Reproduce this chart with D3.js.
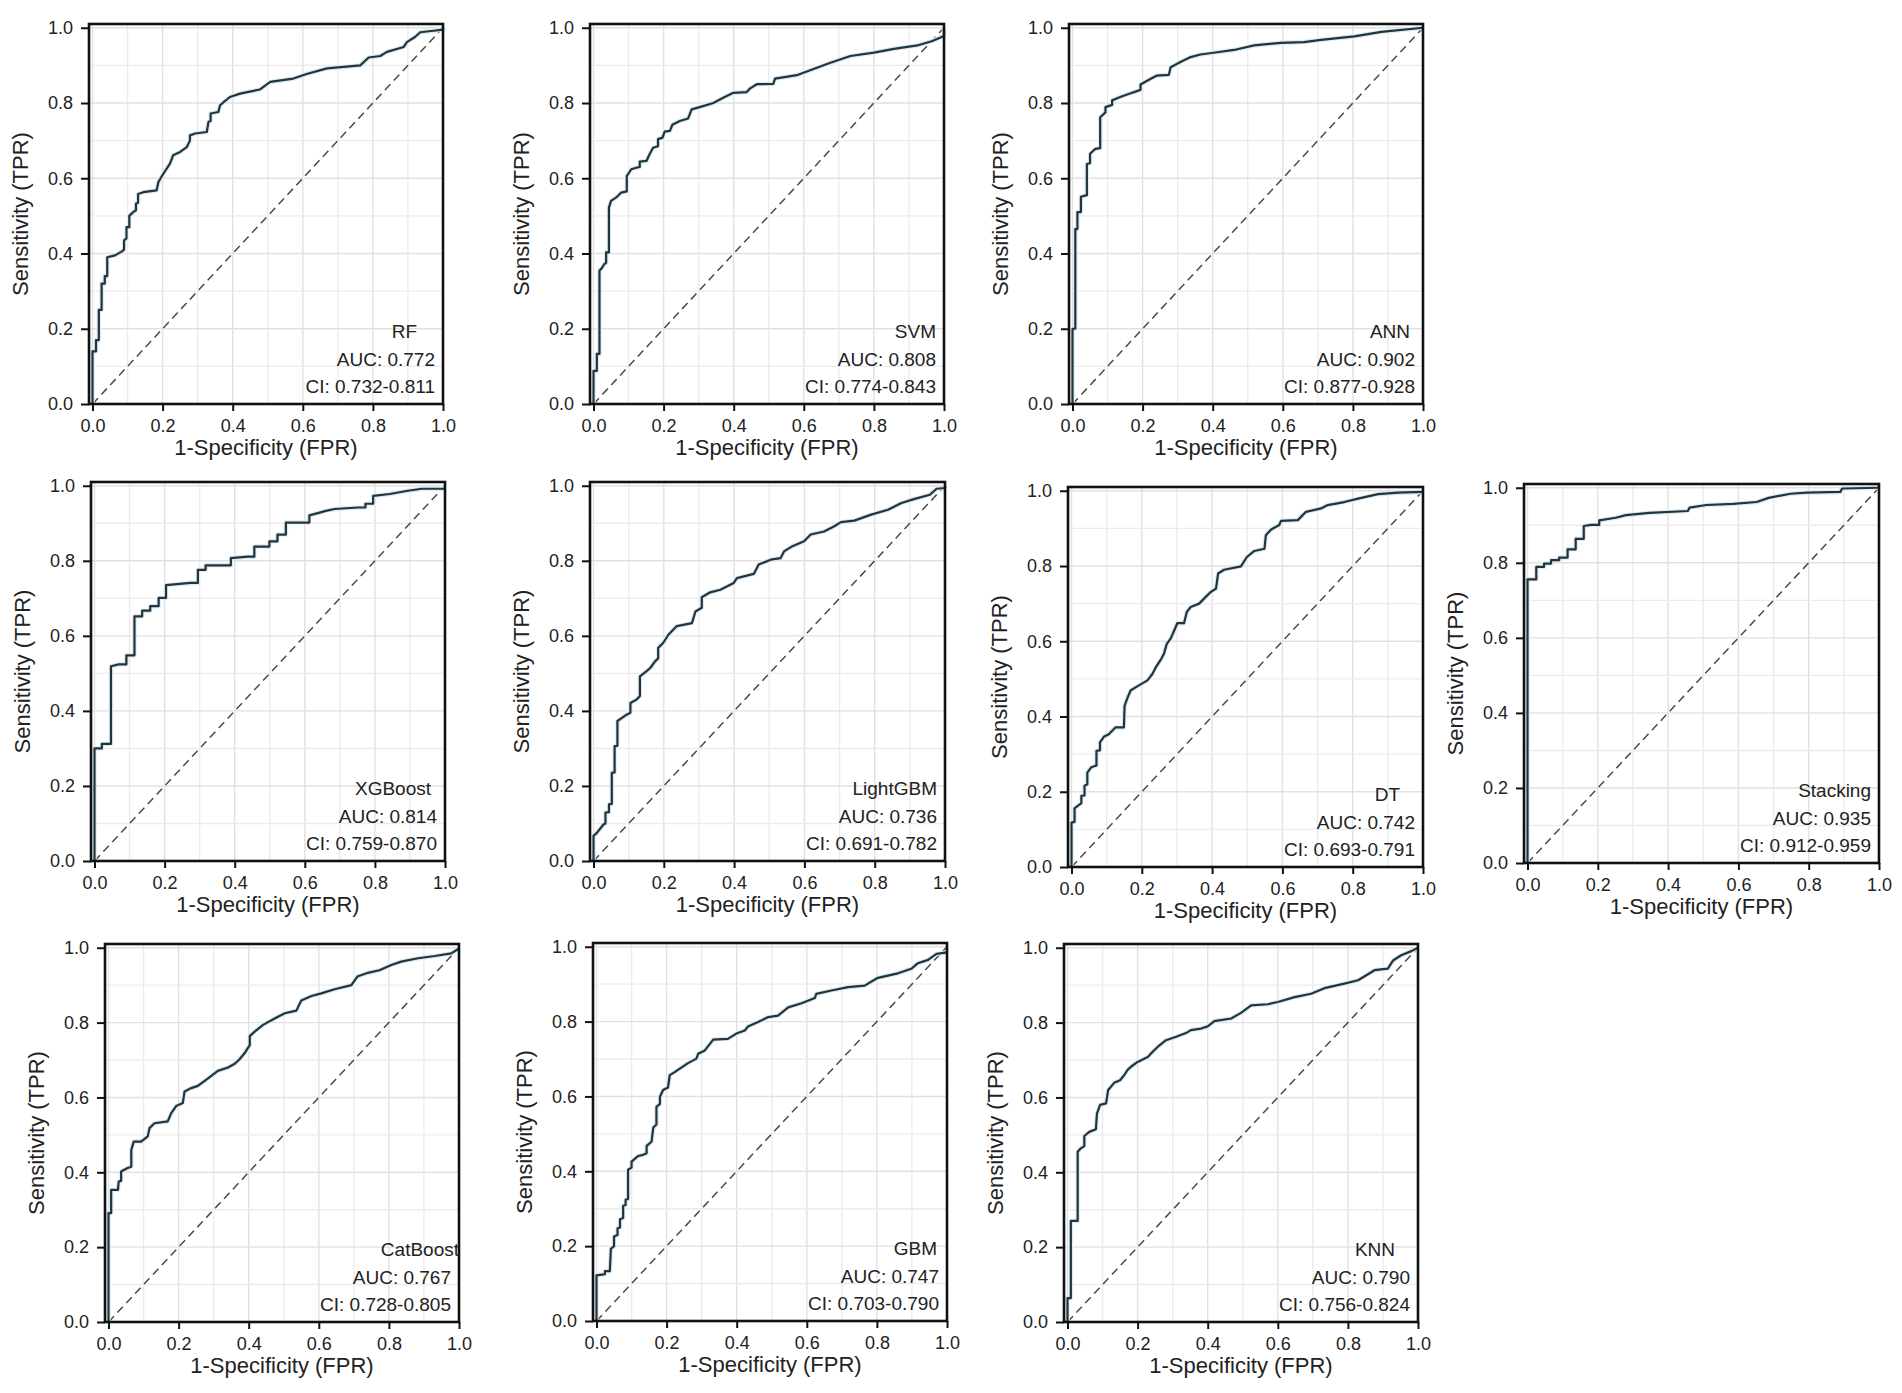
<!DOCTYPE html>
<html>
<head>
<meta charset="utf-8">
<script src="https://cdn.jsdelivr.net/npm/d3@7"></script>
<style>
  body { margin: 0; background: #fff; }
  svg { display: block; font-family: "Liberation Sans", Arial, sans-serif; }
</style>
</head>
<body>
<svg id="graphArea" width="1902" height="1393"></svg>
<script>
/* データ */
const models = ["RF", "SVM", "ANN", "XGBoost", "LightGBM", "DT", "Stacking", "CatBoost", "GBM", "KNN"];
const aucValues = ["0.772", "0.808", "0.902", "0.814", "0.736", "0.742", "0.935", "0.767", "0.747", "0.790"];
const ciRanges = ["0.732-0.811", "0.774-0.843", "0.877-0.928", "0.759-0.870", "0.691-0.782",
  "0.693-0.791", "0.912-0.959", "0.728-0.805", "0.703-0.790", "0.756-0.824"];
const tickValues = [0, 0.2, 0.4, 0.6, 0.8, 1.0];
const gridValues = [0, 0.1, 0.2, 0.3, 0.4, 0.5, 0.6, 0.7, 0.8, 0.9, 1.0];
const xLabel = "1-Specificity (FPR)";
const yLabel = "Sensitivity (TPR)";

// ROC 曲線 [FPR, TPR]
const rfRoc = [[0,0],[0,0.14],[0.01,0.14],[0.01,0.17],[0.018,0.17],[0.018,0.25],[0.026,0.25],[0.026,0.32],
  [0.035,0.32],[0.035,0.34],[0.042,0.34],[0.042,0.39],[0.064,0.395],[0.083,0.405],[0.09,0.41],[0.09,0.435],
  [0.097,0.44],[0.097,0.47],[0.105,0.47],[0.105,0.50],[0.116,0.51],[0.124,0.515],[0.124,0.533],[0.13,0.535],
  [0.13,0.558],[0.145,0.563],[0.183,0.568],[0.188,0.59],[0.202,0.612],[0.221,0.639],[0.23,0.661],[0.25,0.67],
  [0.269,0.683],[0.278,0.70],[0.278,0.714],[0.293,0.719],[0.326,0.723],[0.331,0.75],[0.337,0.752],[0.337,0.772],
  [0.359,0.776],[0.364,0.794],[0.375,0.803],[0.392,0.816],[0.421,0.825],[0.478,0.836],[0.507,0.856],
  [0.573,0.865],[0.611,0.877],[0.669,0.892],[0.764,0.90],[0.788,0.921],[0.821,0.925],[0.84,0.936],
  [0.888,0.949],[0.897,0.962],[0.921,0.976],[0.935,0.988],[0.973,0.992],[1,0.995],[1,1]];

const svmRoc = [[0,0],[0,0.088],[0.0095,0.088],[0.0095,0.133],[0.017,0.133],[0.017,0.354],[0.025,0.363],
  [0.031,0.372],[0.036,0.375],[0.036,0.403],[0.044,0.403],[0.044,0.522],[0.05,0.54],[0.065,0.549],
  [0.079,0.562],[0.095,0.565],[0.095,0.606],[0.108,0.624],[0.122,0.628],[0.132,0.63],[0.132,0.644],
  [0.151,0.646],[0.16,0.664],[0.17,0.681],[0.184,0.685],[0.184,0.704],[0.197,0.708],[0.203,0.724],
  [0.218,0.726],[0.225,0.742],[0.246,0.752],[0.27,0.759],[0.28,0.783],[0.303,0.789],[0.342,0.80],
  [0.37,0.814],[0.399,0.827],[0.437,0.829],[0.447,0.839],[0.466,0.85],[0.513,0.851],[0.518,0.865],
  [0.58,0.874],[0.618,0.887],[0.676,0.907],[0.733,0.925],[0.80,0.934],[0.857,0.944],[0.924,0.953],
  [0.967,0.965],[1,0.978],[1,1]];

const annRoc = [[0,0],[0,0.2],[0.008,0.2],[0.008,0.465],[0.014,0.465],[0.014,0.51],[0.024,0.51],[0.024,0.551],
  [0.041,0.555],[0.041,0.638],[0.05,0.64],[0.05,0.665],[0.065,0.678],[0.079,0.68],[0.079,0.762],
  [0.094,0.775],[0.094,0.789],[0.113,0.795],[0.113,0.807],[0.136,0.816],[0.16,0.824],[0.194,0.835],
  [0.194,0.849],[0.222,0.864],[0.241,0.873],[0.275,0.875],[0.28,0.895],[0.308,0.909],[0.337,0.922],
  [0.365,0.929],[0.413,0.935],[0.461,0.941],[0.518,0.953],[0.594,0.96],[0.661,0.962],[0.709,0.968],
  [0.804,0.977],[0.881,0.989],[1,1]];

const xgbRoc = [[0,0],[0,0.30],[0.021,0.30],[0.021,0.312],[0.047,0.312],[0.047,0.519],[0.069,0.524],
  [0.091,0.524],[0.091,0.548],[0.114,0.548],[0.114,0.652],[0.136,0.652],[0.136,0.667],[0.159,0.667],
  [0.159,0.679],[0.183,0.679],[0.183,0.701],[0.204,0.701],[0.204,0.735],[0.274,0.741],[0.295,0.741],
  [0.295,0.776],[0.317,0.776],[0.317,0.788],[0.389,0.788],[0.389,0.807],[0.437,0.811],[0.456,0.811],
  [0.456,0.838],[0.499,0.838],[0.499,0.852],[0.522,0.852],[0.522,0.87],[0.546,0.87],[0.546,0.902],
  [0.613,0.902],[0.613,0.921],[0.637,0.927],[0.66,0.933],[0.685,0.938],[0.752,0.942],[0.773,0.942],
  [0.773,0.952],[0.795,0.952],[0.795,0.973],[0.842,0.978],[0.89,0.986],[0.933,0.992],[1,0.992]];

const lgbmRoc = [[0,0],[0,0.067],[0.0095,0.075],[0.017,0.084],[0.029,0.098],[0.034,0.10],[0.034,0.129],
  [0.044,0.13],[0.044,0.151],[0.052,0.152],[0.052,0.235],[0.06,0.236],[0.06,0.306],[0.068,0.307],
  [0.068,0.373],[0.079,0.38],[0.094,0.39],[0.105,0.395],[0.105,0.421],[0.122,0.43],[0.132,0.44],
  [0.132,0.492],[0.151,0.506],[0.162,0.515],[0.175,0.532],[0.184,0.54],[0.184,0.568],[0.198,0.581],
  [0.213,0.603],[0.237,0.626],[0.28,0.634],[0.29,0.665],[0.308,0.675],[0.308,0.703],[0.332,0.716],
  [0.361,0.723],[0.399,0.741],[0.408,0.754],[0.456,0.765],[0.47,0.79],[0.504,0.803],[0.532,0.807],
  [0.542,0.825],[0.566,0.839],[0.599,0.852],[0.618,0.87],[0.656,0.878],[0.685,0.892],[0.704,0.903],
  [0.742,0.907],[0.79,0.923],[0.838,0.936],[0.876,0.954],[0.914,0.965],[0.957,0.976],[0.976,0.992],
  [1,0.994],[1,1]];

const dtRoc = [[0,0],[0,0.118],[0.0086,0.12],[0.0086,0.156],[0.024,0.167],[0.028,0.17],[0.028,0.189],
  [0.037,0.19],[0.037,0.216],[0.045,0.22],[0.045,0.251],[0.056,0.265],[0.071,0.27],[0.071,0.309],
  [0.081,0.31],[0.081,0.331],[0.092,0.346],[0.106,0.353],[0.125,0.371],[0.149,0.371],[0.151,0.429],
  [0.159,0.449],[0.168,0.469],[0.187,0.48],[0.216,0.496],[0.23,0.513],[0.24,0.531],[0.254,0.551],
  [0.263,0.567],[0.271,0.593],[0.282,0.607],[0.29,0.624],[0.301,0.648],[0.32,0.648],[0.328,0.678],
  [0.339,0.691],[0.363,0.70],[0.382,0.718],[0.396,0.731],[0.411,0.74],[0.417,0.78],[0.434,0.79],
  [0.482,0.799],[0.499,0.824],[0.52,0.84],[0.549,0.846],[0.553,0.882],[0.568,0.897],[0.591,0.909],
  [0.596,0.92],[0.644,0.922],[0.667,0.944],[0.71,0.953],[0.729,0.962],[0.776,0.97],[0.815,0.979],
  [0.872,0.991],[0.929,0.995],[1,0.997]];

const stackRoc = [[0,0],[0,0.756],[0.025,0.756],[0.025,0.789],[0.047,0.789],[0.047,0.798],[0.067,0.798],
  [0.067,0.807],[0.09,0.807],[0.09,0.814],[0.114,0.814],[0.114,0.836],[0.137,0.836],[0.137,0.864],
  [0.16,0.864],[0.16,0.898],[0.18,0.901],[0.204,0.901],[0.204,0.913],[0.251,0.92],[0.28,0.927],
  [0.347,0.933],[0.456,0.938],[0.461,0.947],[0.509,0.954],[0.585,0.957],[0.652,0.962],[0.686,0.973],
  [0.748,0.984],[0.794,0.987],[0.89,0.989],[0.895,0.998],[1,1]];

const catRoc = [[0,0],[0,0.291],[0.0076,0.291],[0.0076,0.353],[0.027,0.353],[0.029,0.375],[0.036,0.377],
  [0.036,0.402],[0.053,0.411],[0.065,0.415],[0.065,0.46],[0.072,0.482],[0.093,0.482],[0.112,0.496],
  [0.117,0.518],[0.131,0.531],[0.169,0.536],[0.179,0.558],[0.193,0.577],[0.212,0.585],[0.217,0.616],
  [0.236,0.625],[0.255,0.631],[0.284,0.651],[0.312,0.671],[0.341,0.68],[0.36,0.69],[0.374,0.702],
  [0.388,0.718],[0.403,0.74],[0.403,0.764],[0.417,0.776],[0.441,0.794],[0.474,0.811],[0.503,0.825],
  [0.536,0.832],[0.55,0.859],[0.579,0.871],[0.607,0.878],[0.645,0.889],[0.693,0.90],[0.71,0.923],
  [0.74,0.933],[0.773,0.94],[0.807,0.954],[0.835,0.963],[0.883,0.972],[0.931,0.978],[0.978,0.985],
  [1,0.998]];

const gbmRoc = [[0,0],[0,0.122],[0.016,0.124],[0.024,0.125],[0.024,0.133],[0.038,0.133],[0.041,0.193],
  [0.05,0.20],[0.05,0.226],[0.06,0.23],[0.06,0.248],[0.067,0.25],[0.067,0.272],[0.076,0.275],
  [0.076,0.308],[0.083,0.31],[0.083,0.324],[0.09,0.326],[0.09,0.404],[0.10,0.41],[0.10,0.426],
  [0.119,0.441],[0.133,0.444],[0.143,0.448],[0.143,0.468],[0.157,0.479],[0.162,0.517],[0.171,0.525],
  [0.171,0.572],[0.181,0.58],[0.181,0.599],[0.19,0.617],[0.204,0.624],[0.209,0.657],[0.223,0.665],
  [0.242,0.677],[0.261,0.689],[0.285,0.701],[0.29,0.714],[0.309,0.723],[0.333,0.752],[0.375,0.754],
  [0.399,0.768],[0.423,0.776],[0.432,0.787],[0.461,0.799],[0.49,0.812],[0.518,0.816],[0.547,0.838],
  [0.585,0.849],[0.623,0.863],[0.627,0.874],[0.67,0.883],[0.718,0.892],[0.765,0.896],[0.803,0.917],
  [0.86,0.929],[0.898,0.941],[0.917,0.956],[0.946,0.965],[0.97,0.981],[1,0.985]];

const knnRoc = [[0,0],[0,0.064],[0.0095,0.064],[0.0095,0.27],[0.029,0.27],[0.029,0.455],[0.038,0.464],
  [0.048,0.47],[0.048,0.497],[0.062,0.508],[0.081,0.515],[0.084,0.557],[0.093,0.58],[0.11,0.584],
  [0.116,0.62],[0.133,0.639],[0.15,0.646],[0.162,0.66],[0.171,0.673],[0.181,0.682],[0.20,0.695],
  [0.229,0.708],[0.243,0.722],[0.257,0.735],[0.281,0.753],[0.31,0.762],[0.338,0.772],[0.352,0.78],
  [0.381,0.784],[0.40,0.79],[0.419,0.804],[0.467,0.811],[0.495,0.826],[0.524,0.846],[0.571,0.849],
  [0.60,0.855],[0.648,0.868],[0.695,0.877],[0.733,0.892],[0.79,0.904],[0.829,0.913],[0.876,0.94],
  [0.914,0.944],[0.929,0.966],[0.952,0.98],[0.981,0.991],[1,1]];

const rocData = [rfRoc, svmRoc, annRoc, xgbRoc, lgbmRoc, dtRoc, stackRoc, catRoc, gbmRoc, knnRoc];

/* レイアウト ( 枠の left, top, width, height, モデル名の横ずれ ) */
const panelBoxes = [
  [89, 24, 354, 380, -18], [590, 24, 354, 380, 0], [1069, 24, 354, 380, -5],
  [91, 482, 354, 379, -6], [590, 482, 355, 379, 0], [1068, 487, 355, 380, -15],
  [1524, 484, 355, 379, 0],
  [105, 944, 354, 378, 8], [593, 943, 354, 378, -2], [1064, 944, 354, 378, -15]
];

class RocPanel {

  /* コンストラクタ */
  constructor(svg, box) {
    const [left, top, width, height, nameDx] = box;
    this.nameDx = nameDx;
    this.g = svg.append("g");
    // 少しだけ余白を持たせた軸範囲
    this.x = d3.scaleLinear().domain([-0.01, 1.0]).range([left, left + width]);
    this.y = d3.scaleLinear().domain([0, 1.01]).range([top + height, top]);
  }

  /* 罫線を描画する */
  drawGrid() {
    const [x0, x1] = this.x.range();
    const [y0, y1] = this.y.range();
    const major = v => Math.round(v * 10) % 2 === 0;
    this.g.selectAll("line.vgrid").data(gridValues).join("line")
      .attr("class", "vgrid")
      .attr("x1", d => this.x(d)).attr("x2", d => this.x(d))
      .attr("y1", y0).attr("y2", y1)
      .style("stroke", d => major(d) ? "#e1e1e1" : "#ececec")
      .style("stroke-width", 1.4);
    this.g.selectAll("line.hgrid").data(gridValues).join("line")
      .attr("class", "hgrid")
      .attr("x1", x0).attr("x2", x1)
      .attr("y1", d => this.y(d)).attr("y2", d => this.y(d))
      .style("stroke", d => major(d) ? "#e1e1e1" : "#ececec")
      .style("stroke-width", 1.4);
  }

  /* 対角線 ( 破線 ) を描画する */
  drawDiagonal() {
    this.g.append("line")
      .attr("x1", this.x(0)).attr("y1", this.y(0))
      .attr("x2", this.x(1)).attr("y2", this.y(1))
      .style("stroke", "#4a4a4a")
      .style("stroke-width", 1.5)
      .style("stroke-dasharray", "8,5");
  }

  /* ROC 曲線を描画する */
  drawCurve(data) {
    const lineFunc = d3.line()
      .x(d => this.x(d[0]))
      .y(d => this.y(d[1]));
    this.g.append("path")
      .datum(data)
      .attr("d", lineFunc)
      .style("fill", "none")
      .style("stroke", "#dcebf1")
      .style("stroke-width", 4.5)
      .style("stroke-linejoin", "round");
    this.g.append("path")
      .datum(data)
      .attr("d", lineFunc)
      .style("fill", "none")
      .style("stroke", "#22343d")
      .style("stroke-width", 2.2)
      .style("stroke-linejoin", "round");
  }

  /* 枠と軸を描画する */
  drawFrame() {
    const [x0, x1] = this.x.range();
    const [y0, y1] = this.y.range();
    this.g.append("rect")
      .attr("x", x0).attr("y", y1)
      .attr("width", x1 - x0).attr("height", y0 - y1)
      .style("fill", "none")
      .style("stroke", "#111")
      .style("stroke-width", 2.6);

    const fmt = d3.format(".1f");
    const styleAxis = g => {
      g.select(".domain").remove();
      g.selectAll(".tick line").style("stroke", "#111").style("stroke-width", 2);
      g.selectAll(".tick text")
        .style("font-size", "18px")
        .style("fill", "#222")
        .style("font-family", "'Liberation Sans', Arial, sans-serif");
    };
    this.g.append("g")
      .attr("transform", `translate(0,${y0})`)
      .call(d3.axisBottom(this.x).tickValues(tickValues).tickFormat(fmt).tickSize(7).tickPadding(8))
      .call(styleAxis);
    this.g.append("g")
      .attr("transform", `translate(${x0},0)`)
      .call(d3.axisLeft(this.y).tickValues(tickValues).tickFormat(fmt).tickSize(8).tickPadding(8))
      .call(styleAxis);
  }

  /* 軸ラベルと AUC 表示を描画する */
  drawLabels(name, auc, ci) {
    const [x0, x1] = this.x.range();
    const [y0, y1] = this.y.range();
    this.g.append("text")
      .attr("x", (x0 + x1) / 2).attr("y", y0 + 51)
      .attr("text-anchor", "middle")
      .style("font-size", "22px").style("fill", "#222")
      .text(xLabel);
    this.g.append("text")
      .attr("transform", `translate(${x0 - 61},${(y0 + y1) / 2}) rotate(-90)`)
      .attr("text-anchor", "middle")
      .style("font-size", "22px").style("fill", "#222")
      .text(yLabel);

    const lines = [[name, -66, this.nameDx], [`AUC: ${auc}`, -38.5, 0], [`CI: ${ci}`, -11, 0]];
    lines.forEach(([txt, dy, dx]) => {
      this.g.append("text")
        .attr("x", x1 - 8 + dx).attr("y", y0 + dy)
        .attr("text-anchor", "end")
        .style("font-size", "19px").style("fill", "#222")
        .text(txt);
    });
  }
}

const svg = d3.select("#graphArea");
models.forEach((name, i) => {
  const panel = new RocPanel(svg, panelBoxes[i]);
  panel.drawGrid();
  panel.drawDiagonal();
  panel.drawCurve(rocData[i]);
  panel.drawFrame();
  panel.drawLabels(name, aucValues[i], ciRanges[i]);
});
</script>
</body>
</html>
